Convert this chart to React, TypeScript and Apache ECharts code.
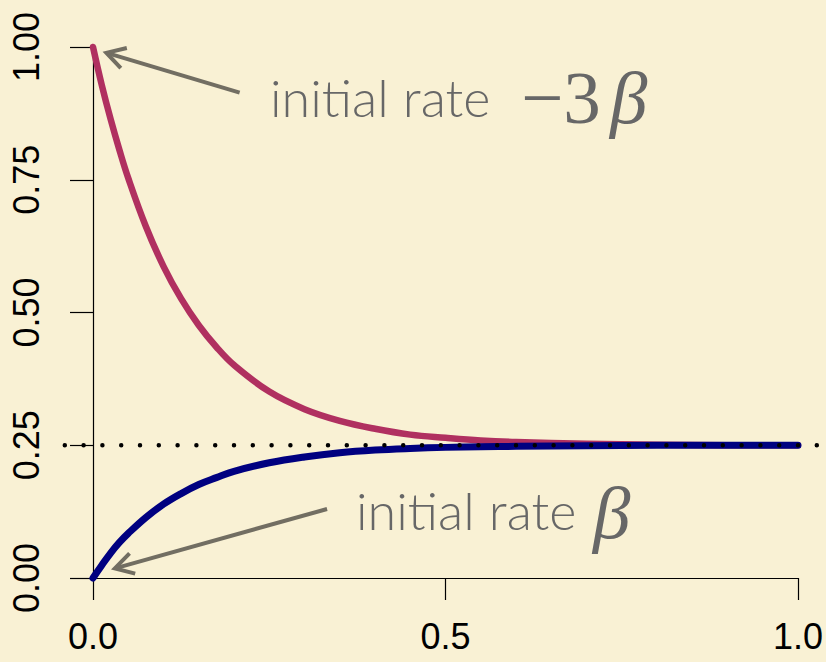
import React, { useEffect, useRef } from "react";
import * as echarts from "echarts";

// Time axis (branch length) and the two transition probability curves
const times = [0, 0.0125, 0.025, 0.0375, 0.05, 0.075, 0.1, 0.125, 0.15, 0.175, 0.2, 0.25, 0.3, 0.35, 0.4, 0.45, 0.5, 0.55, 0.6, 0.7, 0.8, 0.9, 1.0];
const sameBase = [1.0, 0.928, 0.864, 0.806, 0.753, 0.662, 0.587, 0.526, 0.476, 0.435, 0.401, 0.351, 0.318, 0.296, 0.281, 0.27, 0.264, 0.259, 0.256, 0.253, 0.251, 0.25, 0.25];
const diffBase = [0, 0.024, 0.047, 0.067, 0.084, 0.114, 0.139, 0.159, 0.176, 0.189, 0.201, 0.217, 0.228, 0.236, 0.241, 0.244, 0.246, 0.247, 0.248, 0.249, 0.25, 0.25, 0.25];

// Stationary level and the extent of the reference line
const equilibrium = 0.25;
const refLineX = [-0.04, 1.04];

// Axis ticks and their labels
const xTicks = [0, 0.5, 1];
const xLabels = ["0.0", "0.5", "1.0"];
const yTicks = [0, 0.25, 0.5, 0.75, 1];
const yLabels = ["0.00", "0.25", "0.50", "0.75", "1.00"];

// Annotation arrows: [tailX, tailY, tipX, tipY] in data units
const arrows = [
  [0.208, 0.914, 0.019, 0.989],
  [0.332, 0.13, 0.031, 0.018],
];

const BG = "#F9F1D4";
const ARROW = "#726E62";
const NOTE = "#676767";

export default function App() {
  const ref = useRef<HTMLDivElement>(null);

  useEffect(() => {
    if (!ref.current) return;
    const chart = echarts.init(ref.current, undefined, { renderer: "svg" });

    const axisFont = "Liberation Sans, Arial, Helvetica, sans-serif";
    const noteFont = "300 52px Lato, 'Open Sans', sans-serif";
    const mathFont = "75px 'Liberation Serif', 'DejaVu Serif', serif";
    const mathItalic = "italic 75px 'Liberation Serif', 'DejaVu Serif', serif";

    chart.setOption({
      animation: false,
      backgroundColor: BG,
      grid: { left: 93, top: 47, width: 707, height: 531 },
      xAxis: {
        type: "value",
        min: 0,
        max: 1,
        interval: 0.5,
        splitLine: { show: false },
        axisLine: { show: true, onZero: false, lineStyle: { color: "#000", width: 1.2 } },
        axisTick: { show: true, length: 22, lineStyle: { color: "#000", width: 1.2 } },
        axisLabel: {
          fontSize: 36,
          fontFamily: axisFont,
          color: "#000",
          margin: 40,
          formatter: (v: number) => {
            const i = xTicks.findIndex((t) => Math.abs(t - v) < 1e-9);
            return i >= 0 ? xLabels[i] : "";
          },
        },
      },
      yAxis: {
        type: "value",
        min: 0,
        max: 1,
        interval: 0.25,
        splitLine: { show: false },
        axisLine: { show: true, onZero: false, lineStyle: { color: "#000", width: 1.2 } },
        axisTick: { show: true, length: 23, lineStyle: { color: "#000", width: 1.2 } },
        axisLabel: {
          fontSize: 36,
          fontFamily: axisFont,
          color: "#000",
          rotate: 90,
          margin: 49,
          formatter: (v: number) => {
            const i = yTicks.findIndex((t) => Math.abs(t - v) < 1e-9);
            return i >= 0 ? yLabels[i] : "";
          },
        },
      },
      series: [
        {
          name: "same",
          type: "line",
          data: times.map((t, i) => [t, sameBase[i]]),
          symbol: "none",
          smooth: 0.4,
          clip: false,
          z: 2,
          lineStyle: { color: "#B03060", width: 6.5, cap: "round", join: "round" },
        },
        {
          name: "different",
          type: "line",
          data: times.map((t, i) => [t, diffBase[i]]),
          symbol: "none",
          smooth: 0.4,
          clip: false,
          z: 3,
          lineStyle: { color: "#000080", width: 7, cap: "round", join: "round" },
        },
        {
          name: "equilibrium",
          type: "custom",
          coordinateSystem: "cartesian2d",
          clip: false,
          silent: true,
          z: 4,
          encode: { x: [0, 2], y: [1, 3] },
          data: [[refLineX[0], equilibrium, refLineX[1], equilibrium]],
          renderItem: (_params: any, api: any) => {
            const a = api.coord([api.value(0), api.value(1)]);
            const b = api.coord([api.value(2), api.value(3)]);
            return {
              type: "line",
              shape: { x1: a[0], y1: a[1], x2: b[0], y2: b[1] },
              style: { stroke: "#000", lineWidth: 4.5, lineCap: "round", lineDash: [0, 18.8] },
            };
          },
        },
        {
          name: "arrows",
          type: "custom",
          coordinateSystem: "cartesian2d",
          clip: false,
          silent: true,
          z: 5,
          encode: { x: [0, 2], y: [1, 3] },
          data: arrows,
          renderItem: (_params: any, api: any) => {
            const a = api.coord([api.value(0), api.value(1)]);
            const b = api.coord([api.value(2), api.value(3)]);
            const ang = Math.atan2(a[1] - b[1], a[0] - b[0]);
            const len = 21;
            const spread = Math.PI / 6;
            const p1 = [b[0] + len * Math.cos(ang + spread), b[1] + len * Math.sin(ang + spread)];
            const p2 = [b[0] + len * Math.cos(ang - spread), b[1] + len * Math.sin(ang - spread)];
            return {
              type: "group",
              children: [
                {
                  type: "line",
                  shape: { x1: a[0], y1: a[1], x2: b[0] + 2 * Math.cos(ang), y2: b[1] + 2 * Math.sin(ang) },
                  style: { stroke: ARROW, lineWidth: 4, lineCap: "butt" },
                },
                {
                  type: "polyline",
                  shape: { points: [p1, b, p2] },
                  style: { stroke: ARROW, lineWidth: 4, fill: null, lineJoin: "miter" },
                },
              ],
            };
          },
        },
      ],
      graphic: [
        {
          type: "text",
          x: 270,
          y: 97,
          z: 10,
          style: { text: "initial rate", font: noteFont, fill: NOTE, verticalAlign: "middle" },
        },
        {
          type: "text",
          x: 521,
          y: 97,
          z: 10,
          style: { text: "\u22123", font: mathFont, fill: NOTE, verticalAlign: "middle" },
        },
        {
          type: "text",
          x: 610,
          y: 97,
          z: 10,
          style: { text: "\u03B2", font: mathItalic, fill: NOTE, verticalAlign: "middle" },
        },
        {
          type: "text",
          x: 356,
          y: 510,
          z: 10,
          style: { text: "initial rate", font: noteFont, fill: NOTE, verticalAlign: "middle" },
        },
        {
          type: "text",
          x: 593,
          y: 512,
          z: 10,
          style: { text: "\u03B2", font: mathItalic, fill: NOTE, verticalAlign: "middle" },
        },
      ],
    });

    return () => chart.dispose();
  }, []);

  return (
    <div
      ref={ref}
      style={{ position: "fixed", left: 0, top: 0, width: 826, height: 662 }}
    />
  );
}
